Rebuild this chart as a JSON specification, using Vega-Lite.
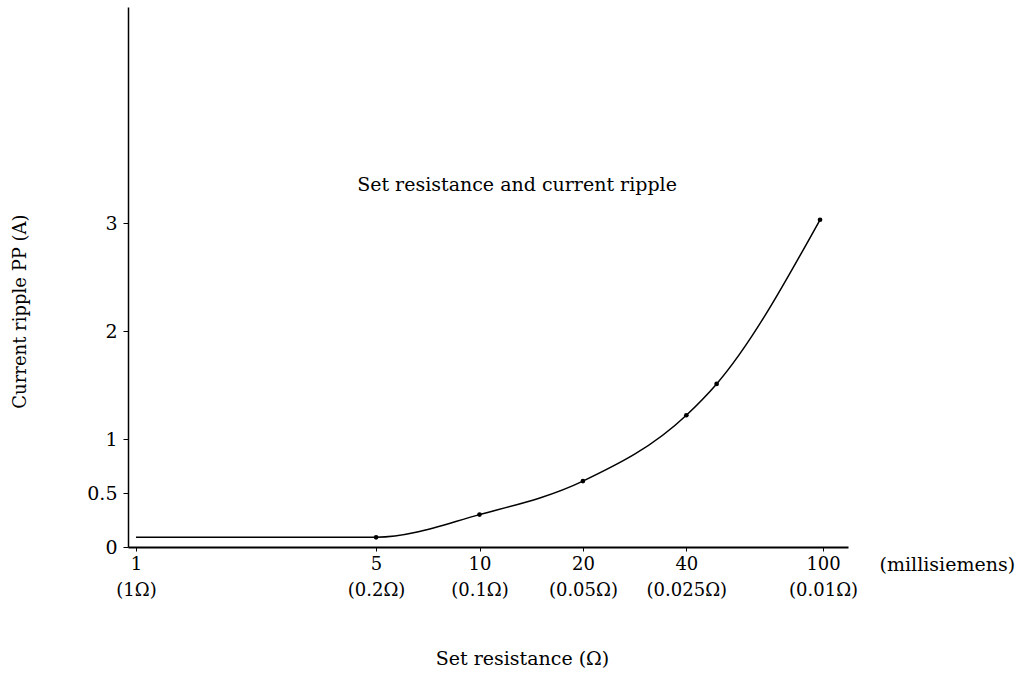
{
  "$schema": "https://vega.github.io/schema/vega-lite/v6.json",
  "width": 720,
  "height": 540,
  "autosize": {"type": "none"},
  "padding": {"left": 128, "top": 7, "right": 173, "bottom": 135},
  "background": "white",
  "config": {
    "view": {"stroke": null},
    "font": "DejaVu Serif",
    "axis": {"grid": false, "labelFont": "DejaVu Serif", "titleFont": "DejaVu Serif", "labelColor": "black", "titleColor": "black", "tickColor": "black", "domainColor": "black", "titleFontWeight": "normal"}
  },
  "layer": [
    {
      "data": {
        "values": [
          {"ms": 1, "ripple": 0.09},
          {"ms": 5, "ripple": 0.09},
          {"ms": 10, "ripple": 0.3},
          {"ms": 20, "ripple": 0.61},
          {"ms": 40, "ripple": 1.22},
          {"ms": 49, "ripple": 1.51},
          {"ms": 98, "ripple": 3.03}
        ]
      },
      "layer": [
        {
          "mark": {"type": "line", "interpolate": "monotone", "color": "black", "strokeWidth": 1.5},
          "encoding": {
            "x": {
              "field": "ms", "type": "quantitative",
              "scale": {"type": "log", "domain": [0.948, 118.2], "nice": false, "zero": false},
              "axis": {
                "values": [1, 5, 10, 20, 40, 100],
                "labelExpr": "datum.value == 1 ? ['1','(1Ω)'] : datum.value == 5 ? ['5','(0.2Ω)'] : datum.value == 10 ? ['10','(0.1Ω)'] : datum.value == 20 ? ['20','(0.05Ω)'] : datum.value == 40 ? ['40','(0.025Ω)'] : ['100','(0.01Ω)']",
                "labelFontSize": 18,
                "labelLineHeight": 26,
                "labelPadding": 4,
                "labelOverlap": false,
                "labelFlush": false,
                "tickSize": 4,
                "domainWidth": 2,
                "title": "Set resistance (Ω)",
                "titleFontSize": 19,
                "titleX": 394,
                "titleY": 111,
                "titleAlign": "center",
                "titleBaseline": "middle"
              }
            },
            "y": {
              "field": "ripple", "type": "quantitative",
              "scale": {"domain": [0, 5], "nice": false},
              "axis": {
                "values": [0, 0.5, 1, 2, 3],
                "format": "~g",
                "labelFontSize": 19,
                "labelPadding": 6,
                "tickSize": 5,
                "domainWidth": 1.5,
                "title": "Current ripple PP (A)",
                "titleFontSize": 18,
                "titleX": -108,
                "titleY": 304,
                "titleAngle": -90,
                "titleAlign": "center",
                "titleBaseline": "middle"
              }
            }
          }
        },
        {
          "transform": [{"filter": "datum.ms > 1"}],
          "mark": {"type": "point", "filled": true, "color": "black", "size": 22, "opacity": 1},
          "encoding": {
            "x": {"field": "ms", "type": "quantitative"},
            "y": {"field": "ripple", "type": "quantitative"}
          }
        }
      ]
    },
    {
      "data": {"values": [{"label": "Set resistance and current ripple"}]},
      "mark": {"type": "text", "fontSize": 19, "fill": "black", "fontWeight": "normal", "align": "center", "baseline": "middle", "font": "DejaVu Serif"},
      "encoding": {
        "x": {"datum": 12.86, "type": "quantitative"},
        "y": {"datum": 3.35, "type": "quantitative"},
        "text": {"field": "label"}
      }
    },
    {
      "data": {"values": [{"label": "(millisiemens)"}]},
      "mark": {"type": "text", "fontSize": 19, "fill": "black", "fontWeight": "normal", "align": "center", "baseline": "middle", "font": "DejaVu Serif"},
      "encoding": {
        "x": {"datum": 230, "type": "quantitative"},
        "y": {"datum": -0.17, "type": "quantitative"},
        "text": {"field": "label"}
      }
    }
  ]
}
